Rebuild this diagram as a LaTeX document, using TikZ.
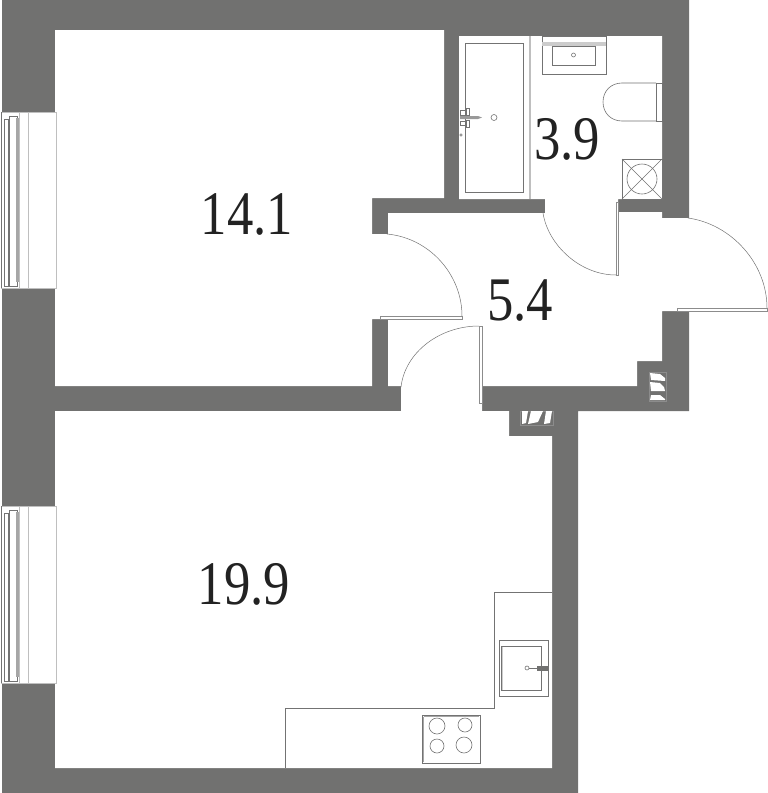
\documentclass[tikz,border=0pt]{standalone}
\usepackage{fontspec}
\usepackage{tikz}
\newfontfamily\areafont[FakeStretch=0.85]{Liberation Serif}
\definecolor{wallgray}{HTML}{717170}
\definecolor{textdark}{HTML}{222222}
\tikzset{
  wall/.style={fill=wallgray},
  thinline/.style={draw=black!55, line width=0.6pt},
  paleline/.style={draw=black!25, line width=0.9pt},
  leafline/.style={draw=black!45, line width=0.9pt},
  swingline/.style={draw=black!55, line width=0.5pt},
  area/.style={font=\areafont\fontsize{62}{62}\selectfont, text=textdark, inner sep=0pt}
}

\begin{document}
\begin{tikzpicture}[x=1pt, y=-1pt]
  \useasboundingbox (0, 0) rectangle (768, 793);
  % walls
  \fill[wall] (2, 0) -- (689, 0) -- (689, 411) -- (578, 411) -- (578, 793) -- (2, 793) -- cycle;
  \fill[white] (0, 112) -- (55, 112) -- (55, 30) -- (444, 30) -- (444, 198) -- (372, 198) -- (372, 234)
    -- (388, 234) -- (388, 213) -- (545, 213) -- (545, 199) -- (459, 199) -- (459, 36) -- (662, 36)
    -- (662, 199) -- (618, 199) -- (618, 212) -- (662, 212) -- (662, 218) -- (690, 218) -- (690, 311)
    -- (662, 311) -- (662, 361) -- (637, 361) -- (637, 386) -- (482, 386) -- (482, 411) -- (509, 411)
    -- (509, 436) -- (552, 436) -- (552, 768) -- (55, 768) -- (55, 683) -- (0, 683) -- (0, 506)
    -- (55, 506) -- (55, 411) -- (401, 411) -- (401, 386) -- (388, 386) -- (388, 319) -- (372, 319)
    -- (372, 386) -- (55, 386) -- (55, 288) -- (0, 288) -- cycle;
  % windows
  \foreach \y/\h in {112/176, 506/177} {
    \begin{scope}[shift={(0, \y)}]
      \draw[paleline] (1, 0) rectangle (56.5, \h);
      \draw[paleline] (28.7, 0) -- (28.7, \h);
      \draw[thinline] (1.5, 0) -- (1.5, \h);
      \draw[thinline] (4.5, 7) rectangle (8, \h-2);
      \draw[thinline] (9, 4) rectangle (17, \h-2);
      \fill[black!35] (16, 6) rectangle (19, \h-6);
      \draw[paleline] (19, 0) -- (19, \h);
    \end{scope}
  }
  % bath
  \draw[paleline, line width=1.6pt] (530, 36) -- (530, 199);
  \draw[thinline] (465, 43) rectangle (523, 192);
  \fill[black!40] (460, 116) -- (478, 116) -- (482, 117.5) -- (478, 119) -- (460, 119) -- cycle;
  \draw[thinline] (494, 117.5) circle (3);
  \draw[thinline] (460, 110) rectangle (465, 115);
  \draw[thinline] (466, 108) rectangle (469, 115);
  \draw[thinline] (460, 121) rectangle (465, 125);
  \draw[thinline] (466, 120) rectangle (469, 127);
  \draw[thinline] (461, 135) circle (1.2);
  % basin
  \draw[thinline] (542, 36) rectangle (606, 74);
  \fill[black!20] (542, 42) rectangle (606, 46);
  \draw[thinline] (552, 46) rectangle (595, 65);
  \draw[thinline] (573.5, 55) circle (2);
  % toilet
  \draw[thinline] (656, 83) -- (622, 83) .. controls (611, 83) and (603, 91) .. (603, 102)
    .. controls (603, 113) and (611, 121) .. (622, 121) -- (656, 121);
  \draw[thinline] (656, 83) rectangle (662, 121);
  % drain box
  \draw[thinline] (622, 159) rectangle (662, 199);
  \draw[thinline] (622, 159) -- (662, 199);
  \draw[thinline] (662, 159) -- (622, 199);
  \draw[thinline] (642, 179) circle (15);
  % doors
  \draw[swingline] (543, 213) .. controls (548, 245) and (580, 275) .. (616, 275);
  \draw[leafline] (616, 202) rectangle (618.3, 275);
  \draw[swingline] (387, 234) .. controls (430, 238) and (462, 275) .. (462, 316);
  \draw[leafline] (380, 316) rectangle (462, 319);
  \draw[swingline] (401, 387) .. controls (405, 352) and (440, 326) .. (479, 326);
  \draw[leafline] (479, 326) rectangle (482, 403);
  \draw[swingline] (688, 218) .. controls (731, 224) and (767, 263) .. (767, 308);
  \draw[leafline] (677, 308) rectangle (767, 311);
  % shafts
  \draw[draw=black!45, line width=0.3pt] (649, 372) rectangle (666, 401);
  \draw[draw=black!45, line width=0.3pt] (520, 411) rectangle (553, 425);
  \fill[white] (650, 373) -- (660, 374) -- (665, 378) -- (665, 381) -- (651, 380) -- cycle;
  \fill[white] (650, 382) -- (660, 383) -- (664, 387) -- (665, 391) -- (651, 391) -- cycle;
  \fill[white] (651, 395) -- (660, 395) -- (665, 399) -- (665, 400) -- (650, 400) -- cycle;
  \fill[white] (522, 411) -- (528, 411) -- (526, 423) -- (522, 424) -- cycle;
  \fill[white] (531, 411) -- (543, 411) -- (538, 422) -- (528, 424) -- cycle;
  \fill[white] (546, 411) -- (552, 411) -- (550, 423) -- (544, 424) -- cycle;
  % kitchen
  \draw[thinline] (552, 592) -- (494, 592) -- (494, 708) -- (285, 708) -- (285, 768);
  \draw[thinline] (499, 640) rectangle (548, 696);
  \fill[black!20] (501, 646) rectangle (503, 690);
  \draw[thinline] (501, 646) rectangle (541.5, 690);
  \draw[thinline] (527, 668) circle (2);
  \draw[thinline] (529, 668) -- (537, 668);
  \fill[wall] (537, 666) rectangle (548, 671);
  \draw[thinline] (422, 715) rectangle (480, 763);
  \draw[thinline, draw=black!35] (423.5, 716.5) -- (423.5, 761.5);
  \draw[thinline, draw=black!35] (423.5, 716.5) -- (478.5, 716.5);
  \foreach \x/\y/\r in {437/726/8, 465/725/7, 437/746/7, 464/745/8} {
    \draw[thinline] (\x, \y) circle (\r);
  }
  % areas
  \node[area] (bedroomarea) at (247, 214) {14.1};
  \node[area] (bathroomarea) at (567, 139) {3.9};
  \node[area] (hallarea) at (520, 301) {5.4};
  \node[area] (livingarea) at (244, 584) {19.9};
\end{tikzpicture}
\end{document}
